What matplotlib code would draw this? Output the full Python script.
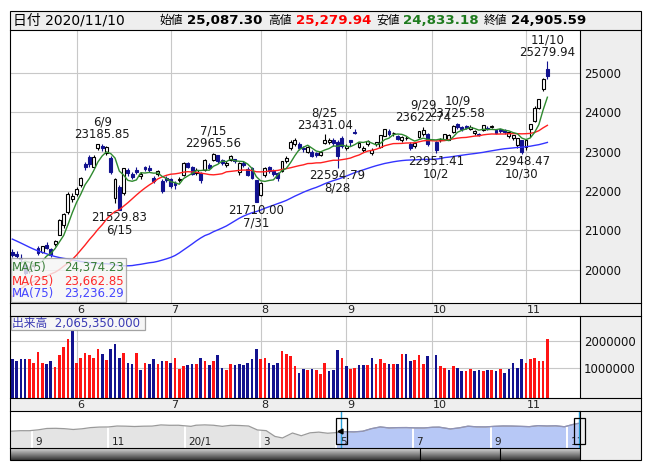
import numpy as np
import pandas as pd
import matplotlib
matplotlib.use("Agg")
import matplotlib.pyplot as plt
import matplotlib.dates as mdates
from matplotlib.patches import Rectangle

plt.rcParams['font.family'] = ['DejaVu Sans', 'Noto Sans CJK JP']

W, H = 653, 470

# ---- daily data 2020/5/11 - 2020/11/10 (10/1: trading halted) ----
dates = [
    '2020-05-11', '2020-05-12', '2020-05-13', '2020-05-14', '2020-05-15', '2020-05-18', '2020-05-19',
    '2020-05-20', '2020-05-21', '2020-05-22', '2020-05-25', '2020-05-26', '2020-05-27', '2020-05-28',
    '2020-05-29', '2020-06-01', '2020-06-02', '2020-06-03', '2020-06-04', '2020-06-05', '2020-06-08',
    '2020-06-09', '2020-06-10', '2020-06-11', '2020-06-12', '2020-06-15', '2020-06-16', '2020-06-17',
    '2020-06-18', '2020-06-19', '2020-06-22', '2020-06-23', '2020-06-24', '2020-06-25', '2020-06-26',
    '2020-06-29', '2020-06-30', '2020-07-01', '2020-07-02', '2020-07-03', '2020-07-06', '2020-07-07',
    '2020-07-08', '2020-07-09', '2020-07-10', '2020-07-13', '2020-07-14', '2020-07-15', '2020-07-16',
    '2020-07-17', '2020-07-20', '2020-07-21', '2020-07-22', '2020-07-27', '2020-07-28', '2020-07-29',
    '2020-07-30', '2020-07-31', '2020-08-03', '2020-08-04', '2020-08-05', '2020-08-06', '2020-08-07',
    '2020-08-11', '2020-08-12', '2020-08-13', '2020-08-14', '2020-08-17', '2020-08-18', '2020-08-19',
    '2020-08-20', '2020-08-21', '2020-08-24', '2020-08-25', '2020-08-26', '2020-08-27', '2020-08-28',
    '2020-08-31', '2020-09-01', '2020-09-02', '2020-09-03', '2020-09-04', '2020-09-07', '2020-09-08',
    '2020-09-09', '2020-09-10', '2020-09-11', '2020-09-14', '2020-09-15', '2020-09-16', '2020-09-17',
    '2020-09-18', '2020-09-23', '2020-09-24', '2020-09-25', '2020-09-28', '2020-09-29', '2020-09-30',
    '2020-10-01', '2020-10-02', '2020-10-05', '2020-10-06', '2020-10-07', '2020-10-08', '2020-10-09',
    '2020-10-12', '2020-10-13', '2020-10-14', '2020-10-15', '2020-10-16', '2020-10-19', '2020-10-20',
    '2020-10-21', '2020-10-22', '2020-10-23', '2020-10-26', '2020-10-27', '2020-10-28', '2020-10-29',
    '2020-10-30', '2020-11-02', '2020-11-04', '2020-11-05', '2020-11-06', '2020-11-09', '2020-11-10',
]

opens = [
    20450, 20400, 20300, 20130, 19970, 20100, 20560, 20450, 20640, 20520,
    20650, 20890, 21150, 21480, 21800, 21930, 22150, 22690, 22870, 22600,
    23090, 23140, 22950, 22830, 21830, 22100, 21950, 22530, 22430, 22540,
    22380, 22600, 22580, 22330, 22420, 22260, 22340, 22300, 22200, 22280,
    22400, 22700, 22600, 22450, 22450, 22520, 22650, 22780, 22900, 22780,
    22650, 22780, 22800, 22470, 22720, 22550, 22590, 22270, 21900, 22400,
    22600, 22500, 22450, 22500, 22760, 23100, 23200, 23200, 23100, 23000,
    23000, 22970, 22900, 23220, 23250, 23300, 23250, 23340, 23080, 23280,
    23500, 23110, 23050, 23180, 22960, 23180, 23110, 23400, 23520, 23460,
    23380, 23300, 23330, 23200, 23150, 23370, 23450, 23450, None, 23240,
    23280, 23300, 23300, 23500, 23690, 23610, 23650, 23580, 23460, 23450,
    23540, 23600, 23610, 23540, 23560, 23540, 23400, 23350, 23170, 23280,
    23110, 23580, 23760, 24100, 24570, 25087.30,
]

highs = [
    20534, 20480, 20410, 20150, 20110, 20200, 20600, 20620, 20700, 20560,
    20760, 21300, 21450, 21970, 21960, 22100, 22360, 22740, 22900, 22910,
    23180, 23185.85, 23150, 22880, 22340, 22160, 22590, 22570, 22470, 22600,
    22480, 22640, 22650, 22370, 22530, 22300, 22380, 22340, 22260, 22360,
    22730, 22740, 22640, 22570, 22480, 22800, 22700, 22965.56, 22920, 22800,
    22760, 22900, 22820, 22730, 22760, 22600, 22600, 22280, 22230, 22600,
    22640, 22560, 22480, 22770, 22880, 23300, 23340, 23250, 23150, 23150,
    23050, 23000, 23000, 23431.04, 23330, 23350, 23300, 23400, 23200, 23300,
    23580, 23250, 23130, 23300, 23080, 23250, 23420, 23582, 23560, 23500,
    23420, 23380, 23380, 23230, 23230, 23530, 23622.74, 23480, None, 23260,
    23350, 23440, 23450, 23660, 23725.58, 23640, 23680, 23660, 23540, 23480,
    23680, 23640, 23680, 23560, 23580, 23560, 23500, 23430, 23340, 23300,
    23310, 23700, 24140, 24340, 24850, 25279.94,
]

lows = [
    20338, 20310, 20180, 19870, 19920, 20060, 20380, 20440, 20530, 20330,
    20600, 20880, 21060, 21420, 21710, 21880, 22110, 22530, 22600, 22580,
    23040, 23020, 22900, 22420, 21700, 21529.83, 21900, 22380, 22300, 22430,
    22300, 22500, 22490, 22200, 22380, 21950, 22230, 22080, 22060, 22230,
    22390, 22580, 22400, 22400, 22200, 22500, 22550, 22760, 22720, 22650,
    22600, 22760, 22700, 22400, 22600, 22380, 22300, 21710.00, 21880, 22350,
    22450, 22380, 22250, 22480, 22700, 23050, 23150, 23050, 22980, 22950,
    22850, 22870, 22880, 23180, 23200, 23150, 22594.79, 23100, 23030, 23150,
    23440, 23090, 23000, 23150, 22900, 23140, 23090, 23380, 23400, 23400,
    23280, 23250, 23290, 23050, 23100, 23350, 23400, 23150, None, 22951.41,
    23230, 23280, 23280, 23480, 23580, 23520, 23560, 23550, 23420, 23380,
    23520, 23540, 23590, 23440, 23480, 23450, 23350, 23300, 23100, 22948.47,
    23050, 23370, 23740, 24080, 24540, 24833.18,
]

closes = [
    20390.66, 20366.48, 20267.05, 19914.78, 20037.47, 20133.73, 20433.45, 20595.15, 20552.31, 20388.16,
    20741.65, 21271.17, 21419.23, 21916.31, 21877.89, 22062.39, 22325.61, 22613.76, 22695.74, 22863.73,
    23178.10, 23091.03, 23124.95, 22472.91, 22305.48, 21530.95, 22582.21, 22455.76, 22355.46, 22478.79,
    22437.27, 22549.05, 22534.32, 22259.79, 22512.08, 21995.04, 22288.14, 22121.73, 22145.96, 22306.48,
    22714.44, 22614.69, 22438.65, 22529.29, 22290.81, 22784.74, 22587.01, 22945.50, 22770.36, 22696.42,
    22717.48, 22884.22, 22751.61, 22715.85, 22657.38, 22397.11, 22339.23, 21710.00, 22195.38, 22573.66,
    22514.85, 22418.15, 22329.94, 22750.24, 22843.96, 23249.61, 23289.36, 23096.75, 23051.08, 23110.61,
    22880.62, 22920.30, 22985.51, 23296.77, 23290.86, 23208.86, 22882.65, 23139.76, 23138.07, 23247.15,
    23465.53, 23205.43, 23089.95, 23274.13, 23032.54, 23235.47, 23406.49, 23559.30, 23454.89, 23475.53,
    23319.37, 23360.30, 23346.49, 23087.82, 23204.62, 23511.62, 23539.10, 23185.12, None, 23029.90,
    23312.14, 23433.73, 23422.82, 23647.07, 23619.69, 23558.69, 23601.78, 23626.73, 23507.23, 23410.63,
    23671.13, 23567.04, 23639.46, 23474.27, 23516.59, 23494.34, 23485.80, 23418.51, 23331.94, 22977.13,
    23295.48, 23695.23, 24105.28, 24325.23, 24839.84, 24905.59,
]

volumes = [
    1320000, 1240000, 1320000, 1320000, 1320000, 1190000, 1590000, 1190000, 1150000, 1230000,
    1010000, 1460000, 1770000, 2080000, 2380000, 1190000, 1350000, 1540000, 1490000, 1380000,
    1690000, 1500000, 1270000, 1690000, 1880000, 1350000, 1540000, 1190000, 1120000, 1540000,
    920000, 1190000, 1150000, 1310000, 1150000, 1230000, 1230000, 1190000, 1350000, 960000,
    1040000, 1080000, 1150000, 1150000, 1350000, 1230000, 1080000, 1230000, 1460000, 1000000,
    920000, 1150000, 1080000, 1150000, 1080000, 1190000, 1310000, 1690000, 1310000, 1380000,
    1190000, 1080000, 1190000, 1620000, 1500000, 1420000, 1040000, 810000, 960000, 920000,
    960000, 920000, 770000, 1190000, 850000, 920000, 1650000, 1350000, 1040000, 960000,
    1000000, 1080000, 1080000, 1080000, 1350000, 1150000, 1310000, 1190000, 1150000, 1150000,
    1120000, 1500000, 1500000, 1230000, 1270000, 1460000, 1150000, 1420000, None, 1460000,
    1040000, 1000000, 920000, 1040000, 1000000, 850000, 880000, 960000, 880000, 920000,
    850000, 920000, 920000, 850000, 960000, 810000, 960000, 1190000, 1000000, 1310000,
    1190000, 1310000, 1350000, 1230000, 1230000, 2065350,
]

# closes before the window (2020/1/17 - 2020/5/8), needed for the moving averages
prior_closes = [
    24041.26, 24083.51, 23864.56, 24031.35, 23795.44, 23827.18, 23343.51, 23215.71, 23379.40, 22977.75,
    23205.18, 22971.94, 23084.59, 23319.56, 23873.59, 23827.98, 23685.98, 23861.21, 23827.73, 23687.59,
    23523.24, 23193.80, 23400.70, 23479.15, 23386.74, 22605.41, 22426.19, 21948.23, 21142.96, 21344.08,
    21082.73, 21100.06, 21329.12, 20749.75, 19698.76, 19867.12, 19416.06, 18559.63, 17431.05, 17002.04,
    17011.53, 16726.55, 16552.83, 16887.78, 18092.35, 19546.63, 18664.60, 19389.43, 19084.97, 18917.01,
    18065.41, 17818.72, 17820.19, 18576.30, 18950.18, 19353.24, 19345.77, 19498.50, 19043.40, 19638.81,
    19550.09, 19290.20, 19897.26, 19669.12, 19280.78, 19137.95, 19429.44, 19262.00, 19783.22, 19771.19,
    20193.69, 19619.35, 19674.77, 20179.09,
]

high_marks = ['2020-06-09', '2020-07-15', '2020-08-25', '2020-09-29', '2020-10-09', '2020-11-10']
low_marks = ['2020-06-15', '2020-07-31', '2020-08-28', '2020-10-02', '2020-10-30']

price_ticks = [20000, 21000, 22000, 23000, 24000, 25000]
volume_ticks = [1000000, 2000000]

# navigator: longer history of the close
nav_dates = [
    '2019-08-15', '2019-08-23', '2019-08-30', '2019-09-06', '2019-09-13', '2019-09-20', '2019-09-27',
    '2019-10-04', '2019-10-11', '2019-10-18', '2019-10-25', '2019-11-01', '2019-11-08', '2019-11-15',
    '2019-11-22', '2019-11-29', '2019-12-06', '2019-12-13', '2019-12-20', '2019-12-27', '2020-01-06',
    '2020-01-10', '2020-01-17', '2020-01-24', '2020-01-31', '2020-02-07', '2020-02-14', '2020-02-21',
    '2020-02-28', '2020-03-06', '2020-03-13', '2020-03-19', '2020-03-27', '2020-04-03', '2020-04-10',
    '2020-04-17', '2020-04-24', '2020-05-01', '2020-05-08', '2020-05-15', '2020-05-22', '2020-05-29',
    '2020-06-05', '2020-06-12', '2020-06-19', '2020-06-26', '2020-07-03', '2020-07-10', '2020-07-17',
    '2020-07-22', '2020-07-31', '2020-08-07', '2020-08-14', '2020-08-21', '2020-08-28', '2020-09-04',
    '2020-09-11', '2020-09-18', '2020-09-25', '2020-10-02', '2020-10-09', '2020-10-16', '2020-10-23',
    '2020-10-30', '2020-11-06', '2020-11-10',
]
nav_values = [
    20405, 20710, 20704, 21199, 21988, 22079, 21878,
    21410, 21798, 22492, 22799, 22850, 23391, 23303,
    23112, 23293, 23354, 24023, 23816, 23837, 23204,
    23850, 24041, 23827, 23205, 23827, 23687, 23386,
    21142, 20749, 17431, 16552, 19389, 17820, 19498,
    19897, 19262, 19619, 20179, 20037, 20388, 21877,
    22863, 22305, 22478, 22512, 22306, 22290, 22696,
    22751, 21710, 22329, 23289, 22920, 22882, 23205,
    23406, 23360, 23204, 23029, 23619, 23410, 23516,
    22977, 24325, 24905,
]
nav_range = ('2019-08-15', '2020-11-11')
nav_window = ('2020-05-05', '2020-11-11')
nav_month_lines = ['2019-09-01', '2019-11-01', '2020-01-01', '2020-03-01',
                   '2020-05-01', '2020-07-01', '2020-09-01', '2020-11-01']
nav_month_labels = ['9', '11', '20/1', '3', '5', '7', '9', '11']

# ---- colours ----
NAVY = '#12128f'
RED = '#ff1414'
GRID = '#c8c8c8'
PANEL = '#eeeeee'
MA_COLORS = {5: '#2f8a2f', 25: '#ff2020', 75: '#3434ff'}

dt = pd.to_datetime(dates)
n = len(dates)
idx = np.arange(n)
valid = [i for i in range(n) if closes[i] is not None]

# first trading slot of each month -> vertical grid
month_first = {}
for i, d in enumerate(dt):
    month_first.setdefault((d.year, d.month), i)
month_pos = [(p, str(m)) for (y, m), p in month_first.items() if p > 0]

# moving averages over the full close history
hist = pd.Series(prior_closes + [closes[i] for i in valid])
mas = {k: hist.rolling(k).mean().to_numpy()[len(prior_closes):] for k in (5, 25, 75)}

fig = plt.figure(figsize=(W / 100, H / 100), dpi=100)


def px_axes(x0, y0, x1, y1, z=1):
    a = fig.add_axes([x0 / W, 1 - y1 / H, (x1 - x0) / W, (y1 - y0) / H])
    a.set_zorder(z)
    return a


def pixel_canvas(z):
    a = px_axes(0, 0, W, H, z)
    a.set_xlim(0, W)
    a.set_ylim(H, 0)
    a.axis('off')
    a.patch.set_alpha(0)
    return a


bg = pixel_canvas(0)
bg.add_patch(Rectangle((10, 10.5), 630.5, 449, fc=PANEL, ec='none'))

XLIM = (-0.42, 132.5)

# ---- price panel ----
ax = px_axes(10.5, 29.5, 579.5, 302.5, 2)
ax.set_xlim(*XLIM)
ax.set_ylim(19177, 26089)
for s in ax.spines.values():
    s.set_visible(False)
for t in price_ticks:
    ax.axhline(t, color=GRID, lw=0.8, zorder=0)
for p, _ in month_pos:
    ax.axvline(p, color=GRID, lw=0.8, zorder=0)
ax.set_xticks([])
ax.yaxis.tick_right()
ax.set_yticks(price_ticks)
ax.set_yticklabels([str(t) for t in price_ticks])
ax.tick_params(axis='y', length=0, pad=3, labelsize=8.5, labelcolor='#111111')

for i in valid:
    o, h, l, c = opens[i], highs[i], lows[i], closes[i]
    up = c >= o
    col = 'black' if up else NAVY
    ax.vlines(i, l, h, color=col, lw=0.8, zorder=2)
    body = max(abs(c - o), 8)
    ax.bar(i, body, bottom=min(o, c), width=0.68, color='white' if up else NAVY,
           edgecolor=col, lw=0.8, zorder=3)

for k in (75, 25, 5):
    ax.plot(valid, mas[k], color=MA_COLORS[k], lw=1.0, zorder=4)

for d in high_marks:
    i = dates.index(d)
    ts = dt[i]
    ax.annotate(f"{ts.month}/{ts.day}\n{highs[i]:.2f}", xy=(i, highs[i]), xytext=(0, 2),
                textcoords='offset points', ha='center', va='bottom', fontsize=8.5,
                linespacing=0.95, color='#1a1a1a', zorder=6)
for d in low_marks:
    i = dates.index(d)
    ts = dt[i]
    ax.annotate(f"{lows[i]:.2f}\n{ts.month}/{ts.day}", xy=(i, lows[i]), xytext=(0, -1),
                textcoords='offset points', ha='center', va='top', fontsize=8.5,
                linespacing=0.95, color='#1a1a1a', zorder=6)

# ---- month strips ----
for y0, y1 in ((302.5, 315.5), (397.5, 411)):
    st = px_axes(10.5, y0, 579.5, y1, 3)
    st.set_xlim(*XLIM)
    st.set_ylim(0, 1)
    st.axis('off')
    st.patch.set_alpha(0)
    for p, lab in month_pos:
        st.text(p + 0.15, 0.45, lab, ha='left', va='center', fontsize=8, color='#222222')

# ---- volume panel ----
VLO, VHI = -137000, 2973000
av = px_axes(10.5, 315.5, 579.5, 397.5, 2)
av.set_xlim(*XLIM)
av.set_ylim(VLO, VHI)
for s in av.spines.values():
    s.set_visible(False)
for t in volume_ticks:
    av.axhline(t, color=GRID, lw=0.8, zorder=0)
for p, _ in month_pos:
    av.axvline(p, color=GRID, lw=0.8, zorder=0)
av.set_xticks([])
av.yaxis.tick_right()
av.set_yticks(volume_ticks)
av.set_yticklabels([str(t) for t in volume_ticks])
av.tick_params(axis='y', length=0, pad=3, labelsize=8.5, labelcolor='#111111')
prev = None
for i in range(n):
    if volumes[i] is None:
        continue
    col = RED if prev is not None and closes[i] >= prev else NAVY
    prev = closes[i]
    av.bar(i, volumes[i] - VLO, bottom=VLO, width=0.62, color=col, zorder=2)

# ---- navigator ----
nd = pd.to_datetime(nav_dates)
nv = np.array(nav_values, dtype=float)
NLO, NHI = 10800, 32000
nav = px_axes(10.5, 411, 579.5, 448, 2)
nav.set_xlim(pd.to_datetime(nav_range[0]), pd.to_datetime(nav_range[1]))
nav.set_ylim(NLO, NHI)
nav.axis('off')
nav.add_patch(Rectangle((0, 0), 1, 1, transform=nav.transAxes, fc='white', ec='none', zorder=0))
w0, w1 = pd.to_datetime(nav_window[0]), pd.to_datetime(nav_window[1])
sel = nd >= w0
nav.fill_between(nd, nv, NLO, color='#e4e4e4', lw=0, zorder=1)
cut = max(np.argmax(sel) - 1, 0)
nav.fill_between(nd[cut:], nv[cut:], NLO, where=nd[cut:] >= nd[cut], color='#b7c8f6', lw=0, zorder=2)
nav.axvspan(nd[cut], w0, color='white', lw=0, zorder=2, ymax=0)
for d in nav_month_lines:
    nav.axvline(pd.to_datetime(d), color='white', lw=1.4, zorder=3)
nav.plot(nd, nv, color='#9a9a9a', lw=0.9, zorder=4)
nav.plot(nd[sel], nv[sel], color='#8f93b8', lw=0.9, zorder=5)
for d, lab in zip(nav_month_lines, nav_month_labels):
    nav.annotate(lab, xy=(pd.to_datetime(d), 0.04), xycoords=('data', 'axes fraction'),
                 xytext=(2.5, 0), textcoords='offset points', ha='left', va='bottom',
                 fontsize=7.5, color='#222222', zorder=6)
for w in (w0, w1):
    nav.axvline(w, color='#2aa0d8', lw=1.0, zorder=7)

# scrollbar gradient
sb = px_axes(10.5, 448, 579.5, 459.5, 2)
grad = np.linspace(0.85, 0.22, 32).reshape(-1, 1)
sb.imshow(grad, cmap='gray', vmin=0, vmax=1, aspect='auto', extent=(0, 1, 0, 1))
sb.axis('off')

# ---- overlay: frame, header, boxes ----
ov = pixel_canvas(10)
L, R, M = 10, 640.5, 579.5
lk = dict(color='black', lw=0.8)
ov.add_patch(Rectangle((L, 10.5), R - L, 449, fc='none', ec='black', lw=0.8))
for y in (29.5, 302.5, 315.5, 397.5, 411):
    ov.plot([L, R], [y, y], **lk)
ov.plot([L, M], [448, 448], **lk)
for y0, y1 in ((29.5, 302.5), (315.5, 397.5), (411, 459.5)):
    ov.plot([M, M], [y0, y1], **lk)
for x in (419.5, 499.5):
    ov.plot([x, x], [448, 459.5], **lk)

# navigator handles
nx0 = mdates.date2num(pd.to_datetime(nav_range[0]))
nx1 = mdates.date2num(pd.to_datetime(nav_range[1]))
for w in (w0, w1):
    px = 10.5 + (mdates.date2num(w) - nx0) / (nx1 - nx0) * (M - 10.5)
    ov.add_patch(Rectangle((px - 5.5, 418), 11, 26, fc='none', ec='black', lw=0.9))
px = 10.5 + (mdates.date2num(w0) - nx0) / (nx1 - nx0) * (M - 10.5)
ov.plot([px - 1], [431], marker='<', ms=3.5, color='black')

# header
hy = 20
hk = dict(va='center', color='black')
ov.text(13, hy, '日付 2020/11/10', fontsize=10, **hk)
header_items = [(160, '始値', 187, '25,087.30', 'black'),
                (268, '高値', 296, '25,279.94', '#ff0000'),
                (376, '安値', 403, '24,833.18', '#1e7b1e'),
                (484, '終値', 511, '24,905.59', 'black')]
for lx, lab, vx, val, col in header_items:
    ov.text(lx, hy + 0.5, lab, fontsize=8.5, va='center', color='black')
    ov.text(vx, hy, val, fontsize=9.6, fontweight='bold', va='center', color=col)

# moving-average legend
ov.add_patch(Rectangle((10.5, 258), 115, 44, fc='#f6f6f6', ec='#9a9a9a', lw=0.9, alpha=0.8))
legend_rows = [(5, 'MA(5)', '24,374.23', '#3a7f3a'),
               (25, 'MA(25)', '23,662.85', '#ff2a2a'),
               (75, 'MA(75)', '23,236.29', '#4646ff')]
for r, (k, lab, val, col) in enumerate(legend_rows):
    yy = 268 + r * 13
    ov.text(12, yy, lab, fontsize=8.5, va='center', ha='left', color=col)
    ov.text(124, yy, val, fontsize=8.5, va='center', ha='right', color=col)

# volume label
ov.add_patch(Rectangle((10.5, 315.5), 134, 14.5, fc='#f6f6f6', ec='#9a9a9a', lw=0.9, alpha=0.9))
ov.text(12, 323, '出来高  2,065,350.000', fontsize=8.5, va='center', ha='left', color='#3a3ab4')

fig.savefig('out.png', dpi=100)
